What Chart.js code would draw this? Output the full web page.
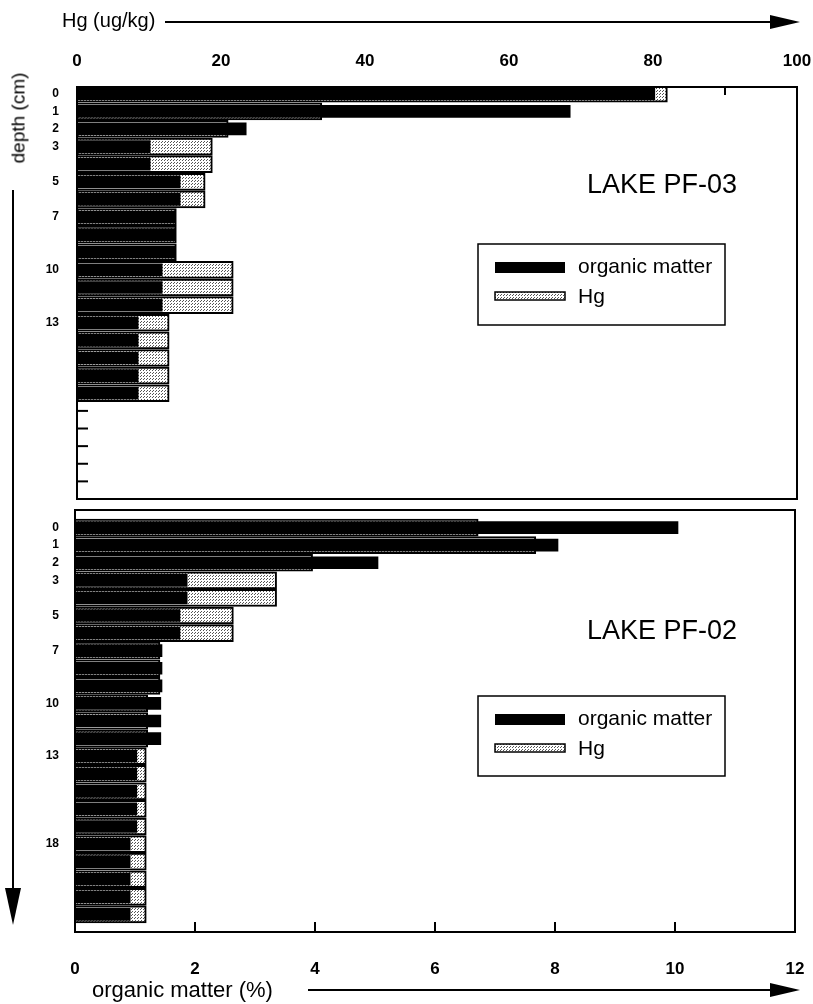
<!DOCTYPE html>
<html>
<head>
<meta charset="utf-8">
<script src="https://cdn.jsdelivr.net/npm/chart.js@4/dist/chart.umd.min.js"></script>
<style>
  body { margin: 0; background: #fff; }
  #page { position: relative; width: 813px; height: 1004px; overflow: hidden; font-family: "Liberation Sans", Arial, sans-serif; color: #000; }
  canvas { position: absolute; left: 0; }
  .txt { position: absolute; white-space: nowrap; line-height: 1; }
  svg { position: absolute; left: 0; top: 0; }
</style>
</head>
<body>
<div id="page">
  <canvas id="topChart" width="813" height="505" style="top:0"></canvas>
  <canvas id="bottomChart" width="813" height="504" style="top:500px"></canvas>
  <div class="txt" style="left:62px; top:20px; font-size:20px; transform:translateY(-50%)">Hg (ug/kg)</div>
  <div class="txt" style="left:18px; top:118px; font-size:19px; transform:translate(-50%,-50%) rotate(-90deg)">depth (cm)</div>
  <div class="txt" style="left:92px; top:990px; font-size:22px; transform:translateY(-50%)">organic matter (%)</div>
  <svg width="813" height="1004">
    <line x1="165" y1="22" x2="775" y2="22" stroke="#000" stroke-width="2"/>
    <polygon points="770,15 800,22 770,29" fill="#000"/>
    <line x1="308" y1="990" x2="775" y2="990" stroke="#000" stroke-width="2"/>
    <polygon points="770,983 800,990 770,997" fill="#000"/>
    <line x1="13" y1="190" x2="13" y2="895" stroke="#000" stroke-width="2"/>
    <polygon points="5,888 13,925 21,888" fill="#000"/>
  </svg>
</div>
<script>
// --- DATOS ---
const depths = [0, 1, 2, 3, 4, 5, 6, 7, 8, 9, 10, 11, 12, 13, 14, 15, 16, 17, 18, 19, 20, 21, 22];

// LAKE PF-03
const omPF03 = [9.63, 8.22, 2.82, 1.22, 1.22, 1.72, 1.72, 1.63, 1.63, 1.63, 1.42, 1.42, 1.42, 1.02, 1.02, 1.02, 1.02, 1.02, null, null, null, null, null];
const hgPF03 = [82, 34, 21, 18.8, 18.8, 17.8, 17.8, 13.8, 13.8, 13.8, 21.7, 21.7, 21.7, 12.8, 12.8, 12.8, 12.8, 12.8, null, null, null, null, null];
const labelsPF03 = [0, 1, 2, 3, 5, 7, 10, 13];

// LAKE PF-02
const omPF02 = [10.05, 8.05, 5.05, 1.87, 1.87, 1.75, 1.75, 1.45, 1.45, 1.45, 1.43, 1.43, 1.43, 1.03, 1.03, 1.03, 1.03, 1.03, 0.92, 0.92, 0.92, 0.92, 0.92];
const hgPF02 = [56, 64, 33, 28, 28, 22, 22, 11.8, 11.8, 11.8, 10.1, 10.1, 10.1, 9.9, 9.9, 9.9, 9.9, 9.9, 9.9, 9.9, 9.9, 9.9, 9.9];
const labelsPF02 = [0, 1, 2, 3, 5, 7, 10, 13, 18];

const hgTicks = [0, 20, 40, 60, 80, 100];
const omTicks = [0, 2, 4, 6, 8, 10, 12];

const FONT = '"Liberation Sans", Arial, sans-serif';

// trama punteada para Hg
function dotPattern() {
    const c = document.createElement('canvas');
    c.width = 3; c.height = 3;
    const g = c.getContext('2d');
    g.fillStyle = '#fff';
    g.fillRect(0, 0, 3, 3);
    g.fillStyle = '#555';
    g.fillRect(0, 0, 1, 1);
    g.fillRect(2, 1, 1, 1);
    return g.createPattern(c, 'repeat');
}
const hgFill = dotPattern();

// sin márgenes extra de las etiquetas: el área queda donde se pide
function noPad(s) {
    s.paddingLeft = 0; s.paddingRight = 0;
    s.paddingTop = 0; s.paddingBottom = 0;
}

// --- PLUGIN: marco, ticks internos, nombre del lago y leyenda ---
const panelDecor = {
    id: 'panelDecor',
    beforeDatasetsDraw(chart, args, opts) {
        const ctx = chart.ctx;
        const a = chart.chartArea;
        ctx.save();
        ctx.strokeStyle = '#000';
        ctx.lineWidth = 2;
        (opts.inTicks || []).forEach(t => {
            const s = chart.scales[t.id];
            t.values.forEach(v => {
                const p = s.getPixelForValue(v);
                ctx.beginPath();
                if (t.side === 'top') { ctx.moveTo(p, a.top); ctx.lineTo(p, a.top + t.len); }
                if (t.side === 'bottom') { ctx.moveTo(p, a.bottom); ctx.lineTo(p, a.bottom - t.len); }
                if (t.side === 'left') { ctx.moveTo(a.left, p); ctx.lineTo(a.left + t.len, p); }
                ctx.stroke();
            });
        });
        ctx.restore();
    },
    afterDraw(chart, args, opts) {
        const ctx = chart.ctx;
        const a = chart.chartArea;
        ctx.save();
        ctx.strokeStyle = '#000';
        ctx.lineWidth = 2;
        ctx.strokeRect(a.left, a.top, a.right - a.left, a.bottom - a.top);

        ctx.fillStyle = '#000';
        ctx.textBaseline = 'middle';
        ctx.textAlign = 'left';
        ctx.font = '27px ' + FONT;
        ctx.fillText(opts.name, a.left + opts.namePos[0], a.top + opts.namePos[1]);

        // leyenda
        const [lx, ly, lw, lh] = opts.legendBox;
        const x0 = a.left + lx, y0 = a.top + ly;
        ctx.fillStyle = '#fff';
        ctx.fillRect(x0, y0, lw, lh);
        ctx.lineWidth = 1.5;
        ctx.strokeRect(x0, y0, lw, lh);
        ctx.font = '21px ' + FONT;
        const ds = chart.data.datasets;
        // organic matter
        ctx.fillStyle = ds[0].backgroundColor;
        ctx.fillRect(x0 + 17, y0 + 18, 70, 11);
        ctx.fillStyle = '#000';
        ctx.fillText(ds[0].label, x0 + 100, y0 + 23);
        // Hg
        ctx.fillStyle = ds[1].backgroundColor;
        ctx.fillRect(x0 + 17, y0 + 48, 70, 8);
        ctx.lineWidth = 1.5;
        ctx.strokeRect(x0 + 17, y0 + 48, 70, 8);
        ctx.fillStyle = '#000';
        ctx.fillText(ds[1].label, x0 + 100, y0 + 53);
        ctx.restore();
    }
};

function makeDatasets(om, hg) {
    return [
        {
            label: 'organic matter',
            data: om,
            xAxisID: 'xOM',
            yAxisID: 'y',
            backgroundColor: '#000',
            borderWidth: 0,
            barThickness: 12,
            grouped: false
        },
        {
            label: 'Hg',
            data: hg,
            xAxisID: 'xHg',
            yAxisID: 'y',
            backgroundColor: hgFill,
            borderColor: '#000',
            borderWidth: 2,
            barThickness: 17,
            grouped: false
        }
    ];
}

const tickFont = { family: FONT, size: 17, weight: 'bold' };
const depthFont = { family: FONT, size: 12, weight: 'bold' };

// --- PANEL SUPERIOR: LAKE PF-03 ---
new Chart(document.getElementById('topChart'), {
    type: 'bar',
    data: { labels: depths, datasets: makeDatasets(omPF03, hgPF03) },
    options: {
        responsive: false,
        animation: false,
        indexAxis: 'y',
        layout: { padding: { top: 0, right: 16, bottom: 6, left: 0 } },
        plugins: {
            legend: { display: false },
            tooltip: { enabled: false },
            panelDecor: {
                name: 'LAKE PF-03',
                namePos: [510, 99],
                legendBox: [401, 157, 247, 81],
                inTicks: [
                    { id: 'xHg', side: 'top', len: 8, values: [10, 20, 30, 40, 50, 60, 70, 80, 90] },
                    { id: 'y', side: 'left', len: 11, values: depths }
                ]
            }
        },
        scales: {
            y: {
                type: 'linear',
                reverse: true,
                offset: false,
                bounds: 'data',
                min: -0.38,
                max: 23,
                afterFit: s => { s.width = 77; noPad(s); },
                afterBuildTicks: s => { s.ticks = depths.map(v => ({ value: v })); },
                grid: { display: false },
                border: { display: false },
                ticks: {
                    autoSkip: false,
                    padding: 10,
                    color: '#000',
                    font: depthFont,
                    callback: v => labelsPF03.includes(v) ? String(v) : ''
                }
            },
            xHg: {
                type: 'linear',
                position: 'top',
                min: 0,
                max: 100,
                afterFit: s => { s.height = 87; noPad(s); },
                grid: { display: false },
                border: { display: false },
                afterBuildTicks: s => { s.ticks = hgTicks.map(v => ({ value: v })); },
                ticks: { padding: 7, color: '#000', font: tickFont, maxRotation: 0 }
            },
            xOM: { type: 'linear', display: false, min: 0, max: 12 }
        }
    },
    plugins: [panelDecor]
});

// --- PANEL INFERIOR: LAKE PF-02 ---
new Chart(document.getElementById('bottomChart'), {
    type: 'bar',
    data: { labels: depths, datasets: makeDatasets(omPF02, hgPF02) },
    options: {
        responsive: false,
        animation: false,
        indexAxis: 'y',
        layout: { padding: { top: 10, right: 18, bottom: 0, left: 0 } },
        plugins: {
            legend: { display: false },
            tooltip: { enabled: false },
            panelDecor: {
                name: 'LAKE PF-02',
                namePos: [512, 122],
                legendBox: [403, 186, 247, 80],
                inTicks: [
                    { id: 'xOM', side: 'bottom', len: 10, values: [2, 4, 6, 8, 10] },
                    { id: 'y', side: 'left', len: 11, values: depths }
                ]
            }
        },
        scales: {
            y: {
                type: 'linear',
                reverse: true,
                offset: false,
                bounds: 'data',
                min: -1,
                max: 23,
                afterFit: s => { s.width = 75; noPad(s); },
                afterBuildTicks: s => { s.ticks = depths.map(v => ({ value: v })); },
                grid: { display: false },
                border: { display: false },
                ticks: {
                    autoSkip: false,
                    padding: 8,
                    color: '#000',
                    font: depthFont,
                    callback: v => labelsPF02.includes(v) ? String(v) : ''
                }
            },
            xOM: {
                type: 'linear',
                position: 'bottom',
                min: 0,
                max: 12,
                afterFit: s => { s.height = 72; noPad(s); },
                grid: { display: false },
                border: { display: false },
                afterBuildTicks: s => { s.ticks = omTicks.map(v => ({ value: v })); },
                ticks: { padding: 19, color: '#000', font: tickFont, maxRotation: 0 }
            },
            xHg: { type: 'linear', display: false, min: 0, max: 100 }
        }
    },
    plugins: [panelDecor]
});
</script>
</body>
</html>
